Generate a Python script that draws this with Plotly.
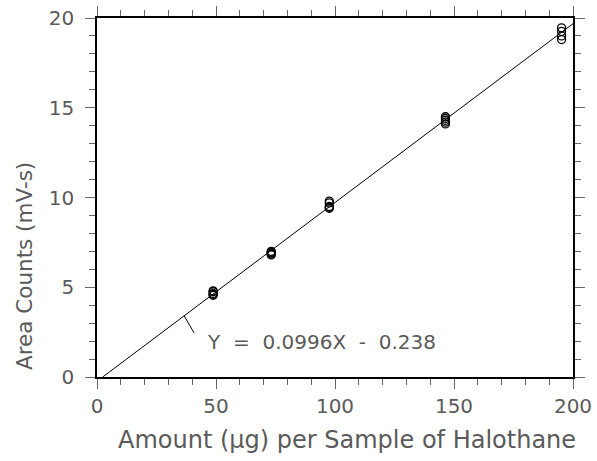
import plotly.graph_objects as go

# ---- data ----
amount_x = [48.8]*5 + [73.2]*5 + [97.6]*5 + [146.4]*5 + [195.2]*4
area_y = [4.55, 4.6, 4.65, 4.75, 4.8,
          6.8, 6.85, 6.9, 6.95, 7.0,
          9.4, 9.45, 9.5, 9.7, 9.8,
          14.1, 14.2, 14.3, 14.4, 14.5,
          18.8, 19.0, 19.25, 19.45]
slope = 0.0996
intercept = -0.238
fit_x_end = 200
label_x = 36.6
x_ticks = [0, 50, 100, 150, 200]
y_ticks = [0, 5, 10, 15, 20]
x_title = "Amount (\u00b5g) per Sample of Halothane"
y_title = "Area Counts (mV-s)"

FONT = "DejaVu Sans"
TXT = "#5a5a5a"

fit_x0 = -intercept / slope
fit_xs = [fit_x0, fit_x_end]
fit_ys = [slope * v + intercept for v in fit_xs]

fig = go.Figure()
fig.add_trace(go.Scatter(x=fit_xs, y=fit_ys, mode="lines",
                         line=dict(color="black", width=1), showlegend=False))
fig.add_trace(go.Scatter(x=amount_x, y=area_y, mode="markers",
                         marker=dict(symbol="circle-open", size=8,
                                     color="black", line=dict(width=1.3)),
                         showlegend=False))

ly = slope * label_x + intercept
fig.add_shape(type="line", x0=label_x, y0=ly, x1=label_x + 4.2, y1=ly - 0.95,
              line=dict(color="black", width=1))
fig.add_annotation(x=label_x + 8.6, y=1.95, xanchor="left", yanchor="middle",
                   text="Y  =  0.0996X  -  0.238", showarrow=False,
                   font=dict(family=FONT, size=20, color=TXT))

# axis titles as annotations (placed like the reference)
fig.add_annotation(xref="paper", yref="paper", x=0.526, y=-0.175,
                   xanchor="center", yanchor="middle", text=x_title,
                   showarrow=False, font=dict(family=FONT, size=24, color=TXT))
fig.add_annotation(xref="paper", yref="paper", x=-0.152, y=0.308,
                   xanchor="center", yanchor="middle", text=y_title,
                   textangle=-90, showarrow=False,
                   font=dict(family=FONT, size=21.5, color=TXT))

axis_common = dict(
    showgrid=False, zeroline=False, showline=True, linecolor="black",
    linewidth=1.5, mirror="ticks", ticks="outside", ticklen=10,
    tickcolor="#666666", tickwidth=1, automargin=False,
    tickfont=dict(family=FONT, size=20, color=TXT),
)
fig.update_xaxes(range=[0, 200], tickvals=x_ticks,
                 ticktext=[str(v) for v in x_ticks],
                 minor=dict(dtick=10, ticks="outside", ticklen=6,
                            tickcolor="#666666", tickwidth=1),
                 **axis_common)
fig.update_yaxes(range=[0, 20], tickvals=y_ticks,
                 ticktext=[str(v) for v in y_ticks],
                 ticklabelstandoff=7,
                 minor=dict(dtick=1, ticks="outside", ticklen=6,
                            tickcolor="#666666", tickwidth=1),
                 **axis_common)

fig.update_layout(width=597, height=461,
                  margin=dict(l=97, r=24, t=18, b=84),
                  paper_bgcolor="white", plot_bgcolor="white")
fig.write_html("out.html")
